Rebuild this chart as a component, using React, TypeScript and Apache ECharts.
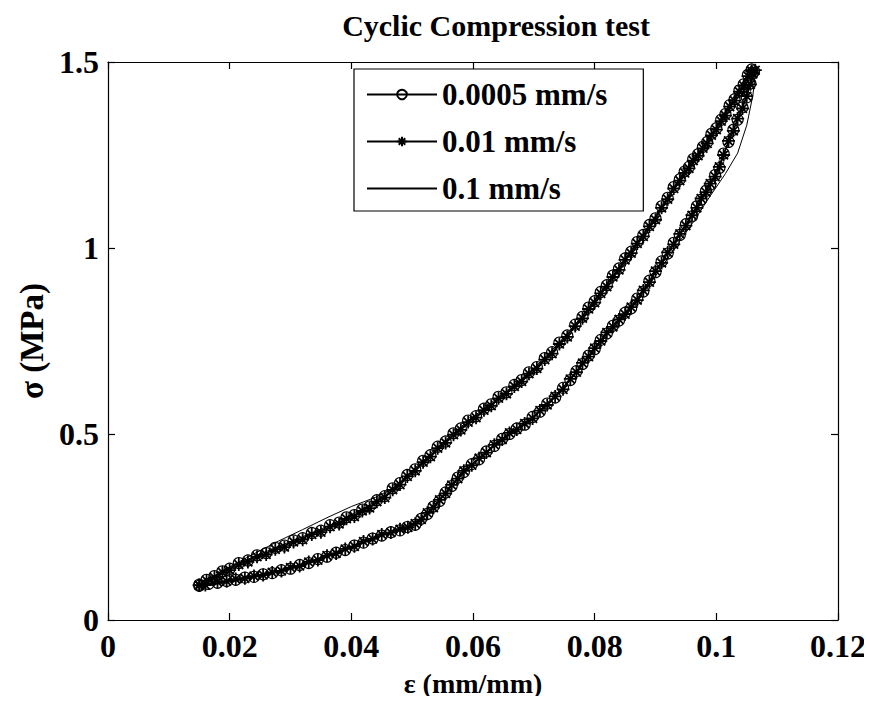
import React, { useEffect, useRef } from "react";
import * as echarts from "echarts";

const titleText = "Cyclic Compression test";
const xName = "ε (mm/mm)";
const yName = "σ (MPa)";
const seriesNames = ["0.0005 mm/s", "0.01 mm/s", "0.1 mm/s"];
const xTicks = [0, 0.02, 0.04, 0.06, 0.08, 0.1, 0.12];
const yTicks = [0, 0.5, 1, 1.5];

// 0.0005 mm/s : two loading / unloading cycles
const slowStrain = [
  0.015, 0.018, 0.021, 0.024, 0.027, 0.03, 0.033, 0.036, 0.039, 0.042, 0.045, 0.048, 0.0505, 0.0525,
  0.0545, 0.0565, 0.0585, 0.061, 0.0635, 0.066, 0.0685, 0.071, 0.0735, 0.076, 0.078, 0.08, 0.082,
  0.084, 0.086, 0.088, 0.09, 0.092, 0.094, 0.096, 0.0975, 0.099, 0.1005, 0.102, 0.1035, 0.105, 0.1062,
  0.1058, 0.1045, 0.103, 0.1015, 0.1, 0.0985, 0.097, 0.0955, 0.094, 0.092, 0.09, 0.088, 0.086, 0.084,
  0.082, 0.08, 0.078, 0.0755, 0.073, 0.0705, 0.068, 0.0655, 0.063, 0.0605, 0.058, 0.0555, 0.053,
  0.0505, 0.048, 0.0455, 0.043, 0.0405, 0.038, 0.035, 0.032, 0.029, 0.026, 0.023, 0.02, 0.0175, 0.015,
  0.0165, 0.0195, 0.0225, 0.0255, 0.0285, 0.0315, 0.0345, 0.0375, 0.0405, 0.0435, 0.0465, 0.0492,
  0.0515, 0.0535, 0.0555, 0.0575, 0.0598, 0.0622, 0.0648, 0.0672, 0.0698, 0.0722, 0.0748, 0.077,
  0.079, 0.081, 0.083, 0.085, 0.087, 0.089, 0.091, 0.093, 0.095, 0.0968, 0.0983, 0.0998, 0.1012,
  0.1028, 0.1043, 0.1056, 0.106,
  0.1052, 0.1038, 0.1022, 0.1008, 0.0992, 0.0978, 0.0962, 0.0948, 0.093, 0.091, 0.089, 0.087, 0.085,
  0.083, 0.081, 0.079, 0.0768, 0.0742, 0.0718, 0.0692, 0.0668, 0.0642, 0.0618, 0.0592, 0.0568,
  0.0542, 0.0518, 0.0492, 0.0468, 0.0442, 0.0418, 0.0392, 0.0365, 0.0335, 0.0305, 0.0275, 0.0245,
  0.0215, 0.0188, 0.0162,
];
const slowStress = [
  0.092, 0.1, 0.108, 0.116, 0.126, 0.138, 0.153, 0.17, 0.188, 0.208, 0.227, 0.241, 0.256, 0.285,
  0.32, 0.36, 0.398, 0.432, 0.468, 0.5, 0.525, 0.56, 0.598, 0.645, 0.688, 0.728, 0.77,
  0.805, 0.838, 0.883, 0.935, 0.985, 1.035, 1.085, 1.13, 1.17, 1.215, 1.285, 1.345, 1.405, 1.475,
  1.48, 1.44, 1.4, 1.36, 1.322, 1.285, 1.252, 1.218, 1.185, 1.135, 1.08, 1.035, 0.99, 0.945,
  0.9, 0.857, 0.815, 0.765, 0.72, 0.68, 0.645, 0.612, 0.58, 0.548, 0.515, 0.48, 0.443,
  0.405, 0.368, 0.333, 0.305, 0.282, 0.262, 0.24, 0.22, 0.2, 0.18, 0.16, 0.138, 0.118, 0.095,
  0.097, 0.105, 0.114, 0.123, 0.134, 0.148, 0.164, 0.181, 0.2, 0.219, 0.236, 0.25,
  0.272, 0.305, 0.343, 0.383, 0.419, 0.453, 0.487, 0.515, 0.546, 0.582, 0.624, 0.669,
  0.711, 0.753, 0.791, 0.826, 0.864, 0.912, 0.964, 1.014, 1.064, 1.112, 1.154, 1.196, 1.254,
  1.318, 1.378, 1.442, 1.47,
  1.466, 1.424, 1.384, 1.345, 1.307, 1.272, 1.239, 1.206, 1.164, 1.112, 1.062, 1.016, 0.972,
  0.926, 0.882, 0.84, 0.794, 0.746, 0.704, 0.666, 0.632, 0.6, 0.568, 0.536, 0.502,
  0.466, 0.428, 0.39, 0.354, 0.322, 0.297, 0.276, 0.255, 0.234, 0.214, 0.194, 0.174,
  0.153, 0.131, 0.108,
];

// 0.01 mm/s : two loading / unloading cycles
const midStrain = [
  0.016, 0.0195, 0.0225, 0.0255, 0.0285, 0.0315, 0.0345, 0.0375, 0.0405, 0.0435, 0.0465, 0.0493,
  0.0515, 0.0535, 0.0555, 0.0575, 0.0598, 0.0622, 0.0648, 0.0672, 0.0698, 0.0722, 0.0748, 0.077,
  0.079, 0.081, 0.083, 0.085, 0.087, 0.089, 0.091, 0.093, 0.095, 0.0968, 0.0983, 0.0998, 0.1012,
  0.1028, 0.1043, 0.1056, 0.1064,
  0.1052, 0.1038, 0.1022, 0.1008, 0.0992, 0.0978, 0.0962, 0.0948, 0.093, 0.091, 0.089, 0.087, 0.085,
  0.083, 0.081, 0.079, 0.0768, 0.0742, 0.0718, 0.0692, 0.0668, 0.0642, 0.0618, 0.0592, 0.0568,
  0.0542, 0.0518, 0.0492, 0.0468, 0.0442, 0.0418, 0.0392, 0.0365, 0.0335, 0.0305, 0.0275, 0.0245,
  0.0215, 0.0188, 0.0162,
  0.015, 0.018, 0.021, 0.024, 0.027, 0.03, 0.033, 0.036, 0.039, 0.042, 0.045, 0.048, 0.0505, 0.0525,
  0.0545, 0.0565, 0.0585, 0.061, 0.0635, 0.066, 0.0685, 0.071, 0.0735, 0.076, 0.078, 0.08, 0.082,
  0.084, 0.086, 0.088, 0.09, 0.092, 0.094, 0.096, 0.0975, 0.099, 0.1005, 0.102, 0.1035, 0.105, 0.106,
  0.1058, 0.1045, 0.103, 0.1015, 0.1, 0.0985, 0.097, 0.0955, 0.094, 0.092, 0.09, 0.088, 0.086, 0.084,
  0.082, 0.08, 0.078, 0.0755, 0.073, 0.0705, 0.068, 0.0655, 0.063, 0.0605, 0.058, 0.0555, 0.053,
  0.0505, 0.048, 0.0455, 0.043, 0.0405, 0.038, 0.035, 0.032, 0.029, 0.026, 0.023, 0.02, 0.0175, 0.015,
];
const midStress = [
  0.094, 0.104, 0.112, 0.121, 0.132, 0.145, 0.161, 0.179, 0.198, 0.218, 0.235, 0.249,
  0.27, 0.302, 0.34, 0.38, 0.416, 0.45, 0.485, 0.512, 0.542, 0.578, 0.62, 0.666,
  0.708, 0.75, 0.788, 0.822, 0.86, 0.908, 0.96, 1.01, 1.06, 1.108, 1.15, 1.192, 1.25,
  1.315, 1.375, 1.44, 1.478,
  1.462, 1.42, 1.38, 1.341, 1.303, 1.268, 1.235, 1.202, 1.16, 1.108, 1.058, 1.012, 0.968,
  0.922, 0.878, 0.836, 0.79, 0.742, 0.7, 0.662, 0.628, 0.596, 0.564, 0.532, 0.498,
  0.462, 0.424, 0.386, 0.35, 0.318, 0.293, 0.272, 0.251, 0.23, 0.21, 0.19, 0.17,
  0.149, 0.128, 0.106,
  0.094, 0.102, 0.11, 0.118, 0.128, 0.141, 0.156, 0.173, 0.191, 0.211, 0.23, 0.244, 0.259, 0.288,
  0.323, 0.363, 0.401, 0.435, 0.471, 0.503, 0.528, 0.563, 0.601, 0.648, 0.691, 0.731, 0.773,
  0.808, 0.841, 0.886, 0.938, 0.988, 1.038, 1.088, 1.133, 1.173, 1.218, 1.288, 1.348, 1.408, 1.468,
  1.476, 1.436, 1.396, 1.356, 1.318, 1.281, 1.248, 1.214, 1.181, 1.131, 1.076, 1.031, 0.986, 0.941,
  0.896, 0.853, 0.811, 0.761, 0.716, 0.676, 0.641, 0.608, 0.576, 0.544, 0.511, 0.476, 0.439,
  0.401, 0.364, 0.329, 0.301, 0.278, 0.258, 0.236, 0.216, 0.196, 0.176, 0.156, 0.134, 0.114, 0.093,
];

// 0.1 mm/s
const fastStrain = [
  0.0145, 0.018, 0.022, 0.026, 0.03, 0.034, 0.038, 0.042, 0.046, 0.05, 0.053, 0.056, 0.059, 0.062,
  0.066, 0.07, 0.074, 0.078, 0.082, 0.086, 0.09, 0.093, 0.096, 0.099, 0.1015, 0.1035, 0.105, 0.106, 0.1065,
  0.1058, 0.103, 0.1, 0.097, 0.094, 0.09, 0.086, 0.082, 0.078, 0.074, 0.07, 0.066, 0.062, 0.058,
  0.054, 0.05, 0.047, 0.044, 0.04, 0.036, 0.032, 0.028, 0.024, 0.02, 0.017, 0.0145,
];
const fastStress = [
  0.088, 0.097, 0.108, 0.121, 0.137, 0.158, 0.182, 0.208, 0.232, 0.252, 0.29, 0.35, 0.405, 0.448,
  0.497, 0.548, 0.612, 0.685, 0.765, 0.835, 0.925, 0.995, 1.065, 1.14, 1.2, 1.255, 1.33, 1.41, 1.48,
  1.485, 1.41, 1.325, 1.25, 1.18, 1.082, 0.99, 0.902, 0.818, 0.742, 0.675, 0.62, 0.567, 0.515,
  0.458, 0.398, 0.355, 0.33, 0.305, 0.275, 0.243, 0.212, 0.178, 0.143, 0.112, 0.09,
];

const FONT = "'Liberation Serif', 'Times New Roman', serif";
const STAR = "path://M5,0L5,10M0,5L10,5M1.6,1.6L8.4,8.4M8.4,1.6L1.6,8.4";

const pairs = (xs: number[], ys: number[]) => xs.map((x, i) => [x, ys[i]]);

export default function App() {
  const ref = useRef<HTMLDivElement>(null);
  useEffect(() => {
    if (!ref.current) return;
    const chart = echarts.init(ref.current, null, { renderer: "svg" });
    const xMin = xTicks[0];
    const xMax = xTicks[xTicks.length - 1];
    const xInt = xTicks[1] - xTicks[0];
    const yMin = yTicks[0];
    const yMax = yTicks[yTicks.length - 1];
    const yInt = yTicks[1] - yTicks[0];
    const axisCommon = {
      type: "value" as const,
      splitLine: { show: false },
      axisLine: { show: true, onZero: false, lineStyle: { color: "#000", width: 1.2 } },
      axisTick: { show: true, inside: true, length: 7, lineStyle: { color: "#000", width: 1.2 } },
    };
    chart.setOption({
      animation: false,
      backgroundColor: "#fff",
      textStyle: { fontFamily: FONT },
      title: {
        text: titleText,
        left: 491,
        textAlign: "center",
        top: 5,
        textStyle: { fontFamily: FONT, fontWeight: "bold", fontSize: 30, color: "#000" },
      },
      grid: { left: 108, right: 34, top: 62, bottom: 84, containLabel: false },
      legend: {
        orient: "vertical",
        left: 354,
        top: 69,
        itemWidth: 70,
        itemHeight: 12,
        itemGap: 16,
        padding: [10, 36, 7, 12],
        backgroundColor: "#fff",
        borderColor: "#000",
        borderWidth: 1.2,
        borderRadius: 0,
        textStyle: { fontFamily: FONT, fontWeight: "bold", fontSize: 31, color: "#000" },
        data: seriesNames,
      },
      xAxis: [
        {
          ...axisCommon,
          position: "bottom",
          min: xMin,
          max: xMax,
          interval: xInt,
          name: xName,
          nameLocation: "middle",
          nameGap: 49,
          nameTextStyle: { fontFamily: FONT, fontWeight: "bold", fontSize: 28, color: "#000" },
          axisLabel: { margin: 10, color: "#000", fontFamily: FONT, fontWeight: "bold", fontSize: 32 },
        },
        {
          ...axisCommon,
          position: "top",
          min: xMin,
          max: xMax,
          interval: xInt,
          axisLabel: { show: false },
        },
      ],
      yAxis: [
        {
          ...axisCommon,
          position: "left",
          min: yMin,
          max: yMax,
          interval: yInt,
          name: yName,
          nameLocation: "middle",
          nameGap: 56,
          nameTextStyle: { fontFamily: FONT, fontWeight: "bold", fontSize: 33, color: "#000" },
          axisLabel: { margin: 9, color: "#000", fontFamily: FONT, fontWeight: "bold", fontSize: 32 },
        },
        {
          ...axisCommon,
          position: "right",
          min: yMin,
          max: yMax,
          interval: yInt,
          axisLabel: { show: false },
        },
      ],
      series: [
        {
          name: seriesNames[0],
          type: "line",
          data: pairs(slowStrain, slowStress),
          symbol: "circle",
          symbolSize: 11,
          showSymbol: true,
          lineStyle: { color: "#000", width: 1 },
          itemStyle: { color: "transparent", borderColor: "#000", borderWidth: 1.1 },
          emphasis: { disabled: true },
          z: 3,
        },
        {
          name: seriesNames[1],
          type: "line",
          data: pairs(midStrain, midStress),
          symbol: STAR,
          symbolSize: 13,
          showSymbol: true,
          lineStyle: { color: "#000", width: 1 },
          itemStyle: { color: "#000", borderColor: "#000", borderWidth: 1.8 },
          emphasis: { disabled: true },
          z: 4,
        },
        {
          name: seriesNames[2],
          type: "line",
          data: pairs(fastStrain, fastStress),
          symbol: "circle",
          symbolSize: 0,
          showSymbol: false,
          lineStyle: { color: "#000", width: 1 },
          itemStyle: { color: "transparent", borderColor: "transparent", borderWidth: 0 },
          emphasis: { disabled: true },
          z: 2,
        },
      ],
    });
    return () => chart.dispose();
  }, []);
  return <div ref={ref} style={{ width: 872, height: 704, margin: -8 }} />;
}
